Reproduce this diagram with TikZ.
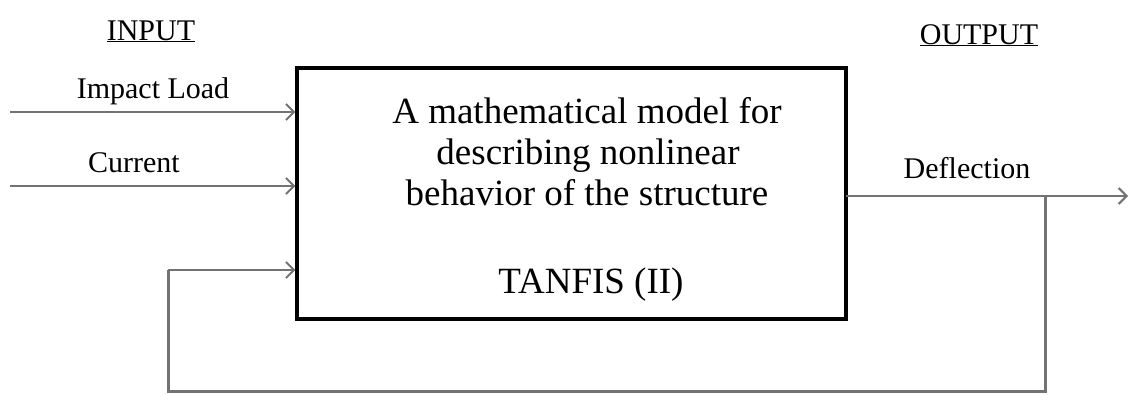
\documentclass[tikz,border=0pt]{standalone}
\usepackage{fontspec}
\setmainfont{Liberation Serif}
\usetikzlibrary{arrows.meta,calc}
\definecolor{linegray}{RGB}{115,115,115}
\tikzset{
  lbl/.style={anchor=base,inner sep=0pt,font=\fontsize{30}{32}\selectfont},
  mtxt/.style={anchor=base,inner sep=0pt,font=\fontsize{37}{40}\selectfont},
  flow/.style={draw=linegray,line width=2.5pt,-{Straight Barb[length=8pt,width=16pt,line width=2pt]}},
  fb/.style={draw=linegray,line width=3pt},
  mbox/.style={draw=black,line width=3.2pt,minimum width=549pt,minimum height=251pt,inner sep=0pt}
}
\begin{document}
\begin{tikzpicture}[x={(1pt,0)},y={(0,-1pt)}]
\useasboundingbox (0,0) rectangle (1129,394);
\node[mbox] (box) at (571.5,193.5) {};
% headings
\node[lbl] (inp) at (151,40) {\underline{INPUT}};
\node[lbl] (outp) at (979,44) {\underline{OUTPUT}};
% labels
\node[lbl] (impact) at (153,98) {Impact Load};
\node[lbl] (curr) at (134,172) {Current};
\node[lbl] (defl) at (967,178) {Deflection};
% main text
\node[mtxt] (t1) at (587,123) {A mathematical model for};
\node[mtxt] (t2) at (588,164) {describing nonlinear};
\node[mtxt] (t3) at (587,205) {behavior of the structure};
\node[mtxt] (t4) at (591,293) {TANFIS (II)};
% connectors
\coordinate (i1) at (10,112);
\coordinate (i2) at (10,186);
\coordinate (fbin) at (168,270);
\coordinate (o1) at (846,196);
\coordinate (oend) at (1128,196);
\coordinate (junc) at (1045,196);
\coordinate (c1) at (1045,391);
\coordinate (c2) at (168,391);
\draw[flow] (i1) -- (i1 -| box.west);
\draw[flow] (i2) -- (i2 -| box.west);
\draw[flow] (o1) -- (oend);
\draw[fb] (junc) -- (c1) -- (c2) -- (fbin);
\draw[flow] (fbin) -- (fbin -| box.west);
\end{tikzpicture}
\end{document}
